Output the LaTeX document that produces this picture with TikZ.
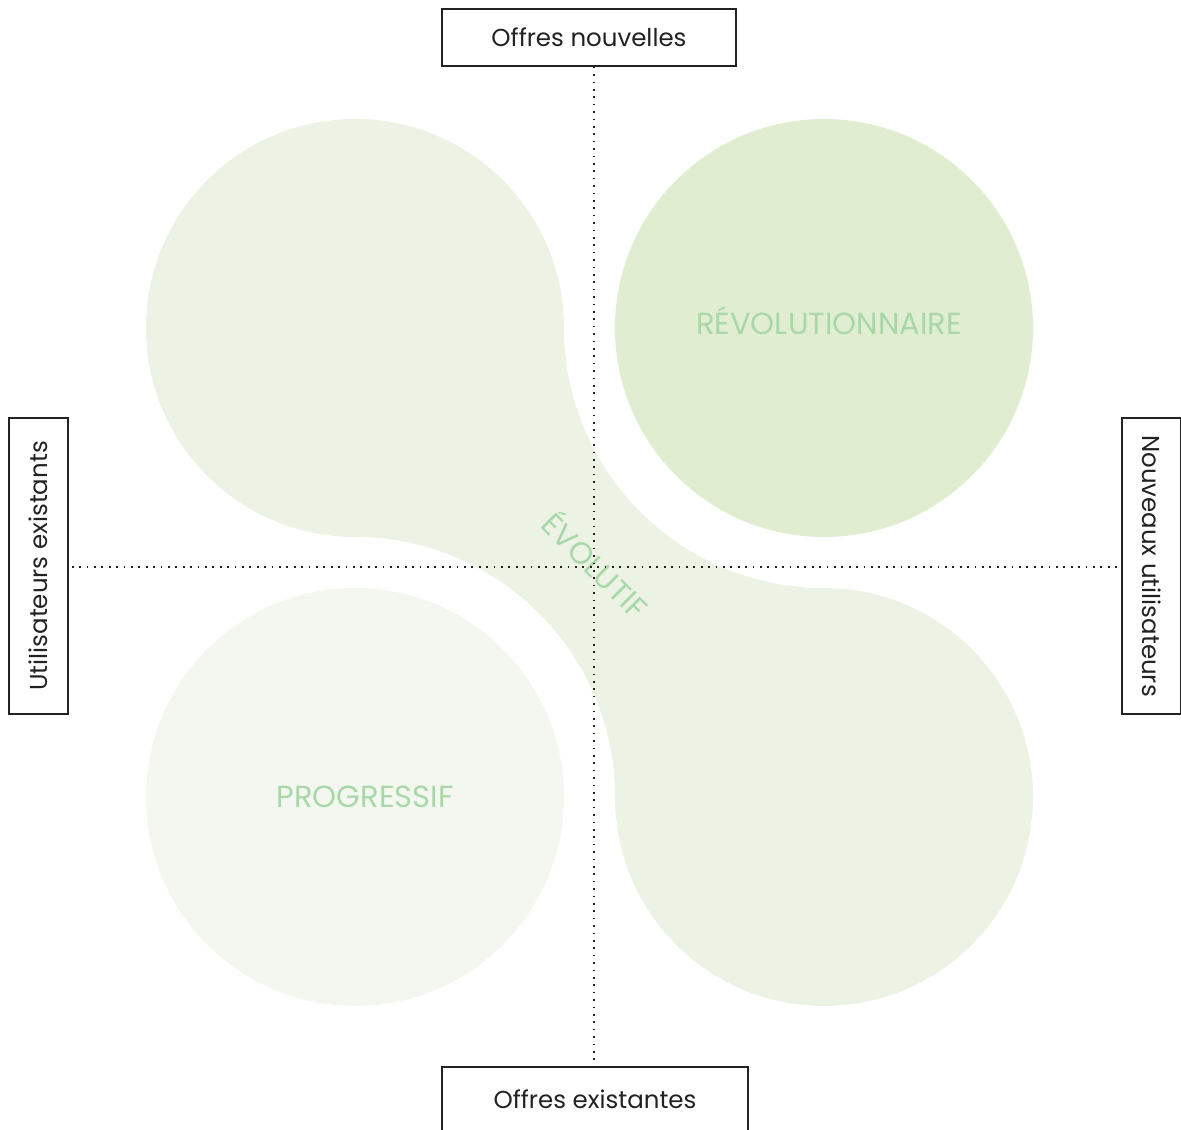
\documentclass[tikz,border=0pt]{standalone}
\usepackage{fontspec}
\setmainfont{Poppins}
\usetikzlibrary{positioning}

\definecolor{evolFill}{RGB}{237,243,228}
\definecolor{revoFill}{RGB}{224,237,208}
\definecolor{progFill}{RGB}{244,247,239}
\definecolor{tagGreen}{RGB}{168,216,168}
\definecolor{inkGrey}{RGB}{34,34,34}

\begin{document}
\begin{tikzpicture}[x=1pt, y=1pt, font=\fontsize{24.5}{28}\selectfont,
      axisbox/.style={draw=inkGrey, line width=1.6pt, text=inkGrey,
      minimum width=294, minimum height=57, inner sep=0pt},
      sidebox/.style={axisbox, minimum width=296, minimum height=59},
      axis/.style={inkGrey, line width=1.7pt, dash pattern=on 1.7pt off 5.7pt},
      tag/.style={text=tagGreen, font=\fontsize{30.5}{34}\selectfont} ]

    \useasboundingbox (0,0) rectangle (1181,1130);

    % Quadrant blobs
    \fill[evolFill] (355,802) circle [radius=209];
    \fill[evolFill] (824,333) circle [radius=209];
    \fill[evolFill] (564,802) arc [start angle=180, end angle=270, radius=260]
    -- (824,333) -- (615,333) arc [start angle=0, end angle=90, radius=260]
    -- (355,802) -- cycle;
    \fill[revoFill] (824,802) circle [radius=209];
    \fill[progFill] (355,333) circle [radius=209];

    \node[tag] (revo) at (829,810) {RÉVOLUTIONNAIRE};
    \node[tag] (prog) at (365,333) {PROGRESSIF};
    \node[tag, rotate=-45] (evol) at (597,566) {ÉVOLUTIF};

    % Axis labels
    \node[axisbox] (top) at (589,1092.5) {Offres nouvelles};
    \node[axisbox, minimum width=306, minimum height=65] (bottom) at
    (595,30.5) {Offres existantes};
    \node[sidebox, rotate=90] (left) at (38.5,564) {Utilisateurs existants};
    \node[sidebox, rotate=-90] (right) at (1151.5,564) {Nouveaux utilisateurs};

    % Axes
    \coordinate (mid) at (594,563);
    \draw[axis] (top.south -| mid) -- (bottom.north -| mid);
    \draw[axis] ([xshift=3pt]left.south |- mid) -- ([xshift=-3pt]right.south
    |- mid);

  \end{tikzpicture}
\end{document}
